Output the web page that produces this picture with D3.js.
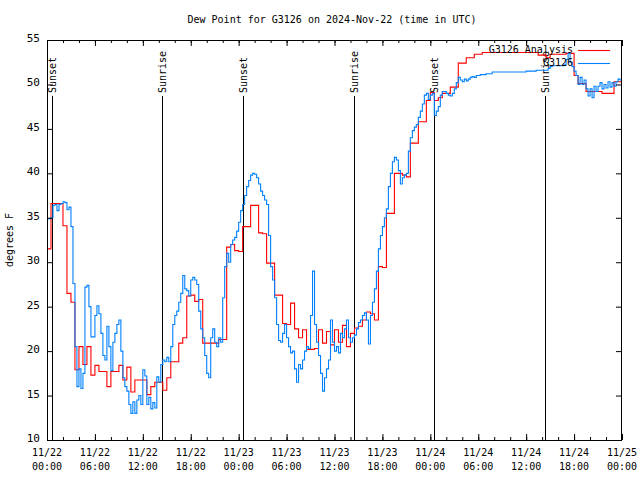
<!DOCTYPE html>
<html><head><meta charset="utf-8">
<script src="https://cdn.jsdelivr.net/npm/d3@7"></script>
<style>
body{margin:0;background:#fff}
text{font-family:"DejaVu Sans Mono","Liberation Mono",monospace;font-size:10px;fill:#000}
</style></head><body>
<svg id="c" width="640" height="480"></svg>
<script>
const title = "Dew Point for G3126 on 2024-Nov-22 (time in UTC)";
const yLabel = "degrees F";
const seriesNames = ["G3126 Analysis", "G3126"];
const seriesColors = ["#ff0000", "#0080ff"];
const yTicks = [10, 15, 20, 25, 30, 35, 40, 45, 50, 55];
const xTickHours = [0, 6, 12, 18, 24, 30, 36, 42, 48, 54, 60, 66, 72];
const xTickDates = ["11/22","11/22","11/22","11/22","11/23","11/23","11/23","11/23","11/24","11/24","11/24","11/24","11/25"];
const xTickTimes = ["00:00","06:00","12:00","18:00","00:00","06:00","12:00","18:00","00:00","06:00","12:00","18:00","00:00"];
const sunHours = [0.62, 14.4, 24.5, 38.4, 48.4, 62.4];
const sunNames = ["Sunset","Sunrise","Sunset","Sunrise","Sunset","Sunrise"];

// Analysis (red), every 30 minutes from 11/22 00:00
const analysis = [
 31.5,36.6,36.6,36.6,34.1,26.5,25.5,17.9,20.5,18.5,20.5,17.3,
 18.4,17.7,17.7,16.0,17.7,17.7,18.4,16.75,18.2,15.4,16.75,16.75,
 16.75,15.1,16.0,16.5,16.5,15.6,17.0,18.8,18.8,20.9,21.5,26.2,
 26.3,25.6,25.8,20.9,20.9,20.9,20.9,21.3,21.3,31.7,32.0,31.3,
 31.2,34.0,34.0,36.4,36.4,33.3,33.2,29.9,29.9,26.3,26.3,23.1,
 23.0,25.4,22.5,21.5,22.4,20.2,20.2,20.3,22.4,20.9,22.2,20.7,
 22.4,21.0,22.9,20.5,22.0,22.6,22.8,23.5,24.4,24.2,23.5,29.5,
 29.4,35.5,35.5,40.0,40.0,39.8,39.6,43.4,43.4,45.8,45.8,48.2,
 49.1,48.2,48.5,49.0,49.0,49.7,49.7,52.4,52.4,53.0,53.0,53.4,
 53.4,53.6,53.6,53.6,53.6,53.6,53.6,53.6,53.6,53.6,53.6,53.6,
 53.6,53.6,53.6,53.3,53.3,53.0,53.4,53.4,53.4,53.4,53.5,53.5,
 51.0,50.1,50.1,49.2,49.2,49.2,49.2,49.0,49.0,49.0,50.3,50.3,
 50.3
];
// Station G3126 (blue), every 15 minutes from 11/22 00:00
const station = [
 34.9,34.9,35.0,36.4,36.5,35.8,36.5,36.6,36.8,36.7,35.9,36.2,34.0,27.6,20.5,16.0,18.0,15.8,17.5,27.2,27.4,25.0,21.6,21.6,
 24.0,25.1,24.2,22.0,19.5,19.0,22.8,20.5,17.8,21.0,22.0,23.0,23.5,20.0,17.0,16.0,15.5,14.0,13.0,14.3,13.0,14.5,15.0,14.0,
 17.9,17.2,14.0,14.8,13.5,14.2,13.6,17.1,16.5,18.5,19.0,18.8,19.3,18.8,20.5,23.0,24.0,24.5,25.5,26.5,28.5,27.0,26.8,26.2,
 28.0,28.3,28.0,27.5,24.5,22.5,21.5,19.5,17.5,17.0,21.5,22.5,21.0,20.5,21.5,21.0,26.0,29.5,31.0,30.0,32.0,32.5,32.8,33.5,
 34.5,35.8,36.5,37.5,38.5,39.2,39.8,40.0,39.9,39.5,38.8,38.0,37.5,37.0,36.5,33.0,29.5,28.0,26.0,23.0,21.2,21.0,22.0,23.0,
 21.5,20.5,19.8,20.0,18.0,16.5,18.5,18.0,19.0,20.0,20.5,20.3,24.0,29.0,23.0,21.0,19.5,17.5,15.5,17.0,18.0,19.0,23.5,21.0,
 20.0,20.5,19.8,22.0,21.5,22.5,23.5,21.5,21.0,21.5,21.8,22.5,23.2,23.5,24.0,24.3,23.5,20.8,24.0,25.5,27.0,29.0,31.5,33.0,
 34.0,35.0,36.0,38.5,40.0,41.3,41.8,41.5,40.3,38.8,39.5,39.8,40.0,42.5,44.0,44.8,45.2,45.5,46.3,47.0,47.8,48.8,49.0,48.3,
 48.8,49.0,46.5,47.0,47.5,48.8,49.2,49.2,49.0,48.8,48.7,49.0,49.5,50.2,50.8,50.5,50.3,50.6,50.4,50.6,50.8,50.9,50.8,51.0,
 51.0,51.1,51.1,51.1,51.2,51.2,51.2,51.4,51.4,51.4,51.4,51.4,51.4,51.4,51.4,51.4,51.4,51.4,51.4,51.4,51.4,51.4,51.4,51.4,
 51.5,51.5,51.5,51.5,51.5,51.6,51.6,51.6,51.6,51.6,51.6,51.8,52.0,52.1,52.1,52.1,52.1,52.1,52.1,52.2,52.8,53.5,52.5,52.0,
 51.5,51.0,50.0,50.8,50.0,50.5,49.5,48.7,49.5,48.5,49.8,49.2,49.8,50.2,49.5,50.0,49.6,50.3,49.7,50.2,49.8,50.3,50.6,50.5,
 50.5
];

const svg = d3.select("#c");
const L = 47, R = 622, T = 40, B = 440;
const x = d3.scaleLinear().domain([0, 72]).range([L, R]);
const y = d3.scaleLinear().domain([10, 55]).range([B, T]);

svg.append("text").attr("x", 332).attr("y", 20).attr("text-anchor", "middle")
  .attr("dominant-baseline", "middle").text(title);
svg.append("text").attr("transform", `translate(10,${(T+B)/2}) rotate(-90)`)
  .attr("text-anchor", "middle").attr("dominant-baseline", "middle").text(yLabel);

svg.append("defs").append("clipPath").attr("id", "clip").append("rect")
  .attr("x", L).attr("y", T).attr("width", R - L).attr("height", B - T);

// sunrise / sunset lines
sunHours.forEach((h, i) => {
  const px = Math.round(x(h)) + 0.5;
  svg.append("line").attr("x1", px).attr("x2", px).attr("y1", 96).attr("y2", B)
    .attr("stroke", "#000").attr("stroke-width", 1);
  svg.append("text").attr("transform", `translate(${px},93) rotate(-90)`)
    .attr("dy", "0.35em").attr("text-anchor", "start").text(sunNames[i]);
});

const line = () => d3.line().x(d => x(d[0])).y(d => y(d[1])).curve(d3.curveStepAfter);
const g = svg.append("g").attr("clip-path", "url(#clip)");
g.append("path").datum(analysis.map((v, i) => [i * 0.5, v]))
  .attr("fill", "none").attr("stroke", seriesColors[0]).attr("stroke-width", 1.1)
  .attr("d", line());
g.append("path").datum(station.map((v, i) => [i * 0.25, v]))
  .attr("fill", "none").attr("stroke", seriesColors[1]).attr("stroke-width", 1.1)
  .attr("d", line());

// axes ticks (inside)
const minorHours = d3.range(0, 73, 2);
svg.append("g").attr("transform", `translate(0,${B})`)
  .call(d3.axisBottom(x).tickValues(minorHours).tickSize(-3).tickFormat(""));
svg.append("g").attr("transform", `translate(0,${T})`)
  .call(d3.axisTop(x).tickValues(minorHours).tickSize(-3).tickFormat(""));
svg.append("g").attr("transform", `translate(0,${B})`)
  .call(d3.axisBottom(x).tickValues(xTickHours).tickSize(-6).tickFormat(""));
svg.append("g").attr("transform", `translate(0,${T})`)
  .call(d3.axisTop(x).tickValues(xTickHours).tickSize(-6).tickFormat(""));
svg.append("g").attr("transform", `translate(${L},0)`)
  .call(d3.axisLeft(y).tickValues(yTicks).tickSize(-6).tickFormat(""));
svg.append("g").attr("transform", `translate(${R},0)`)
  .call(d3.axisRight(y).tickValues(yTicks).tickSize(-6).tickFormat(""));
svg.selectAll(".domain").remove();
svg.selectAll(".tick line").attr("stroke", "#000");
svg.append("rect").attr("x", L + 0.5).attr("y", T + 0.5).attr("width", R - L - 1).attr("height", B - T)
  .attr("fill", "none").attr("stroke", "#000");

// tick labels
yTicks.forEach(v => {
  svg.append("text").attr("x", 40).attr("y", y(v) - 1).attr("text-anchor", "end")
    .attr("dominant-baseline", "middle").style("font-size", "11px").text(v);
});
xTickHours.forEach((h, i) => {
  svg.append("text").attr("x", x(h)).attr("y", 453).attr("text-anchor", "middle")
    .attr("dominant-baseline", "middle").text(xTickDates[i]);
  svg.append("text").attr("x", x(h)).attr("y", 467).attr("text-anchor", "middle")
    .attr("dominant-baseline", "middle").text(xTickTimes[i]);
});

// legend
seriesNames.forEach((n, i) => {
  const ly = 50 + i * 13;
  svg.append("text").attr("x", 573).attr("y", ly).attr("text-anchor", "end")
    .attr("dominant-baseline", "middle").text(n);
  svg.append("line").attr("x1", 578).attr("x2", 610).attr("y1", ly + 0.5).attr("y2", ly + 0.5)
    .attr("stroke", seriesColors[i]).attr("stroke-width", 1.1);
});
</script></body></html>
